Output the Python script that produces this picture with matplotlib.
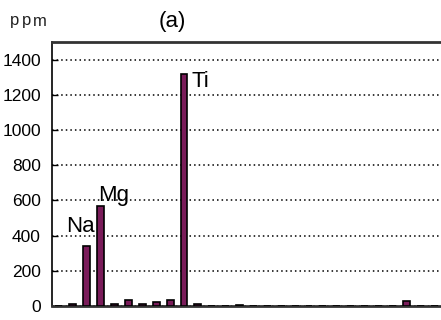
import matplotlib
matplotlib.use("Agg")
import matplotlib.pyplot as plt

plt.rcParams['font.family'] = ['Liberation Sans', 'DejaVu Sans']

# category index -> ppm value
positions = list(range(28))
values = [0, 10, 341, 567, 10, 34, 10, 24, 34, 1320, 10, 0, 0, 8, 0, 0,
          0, 0, 0, 0, 0, 0, 0, 0, 0, 30, 0, 0]
labels = {2: "Na", 3: "Mg", 9: "Ti"}
yticks = [0, 200, 400, 600, 800, 1000, 1200, 1400]

fig = plt.figure(figsize=(4.41, 3.20), dpi=100)
ax = fig.add_axes([52/441, 1-306/320, 1-52/441, (306-42)/320])

ax.bar(positions, values, width=0.5, color="#7A1C5A", edgecolor="black",
       linewidth=1.2, zorder=3)

ax.set_xlim(-0.5, 27.5)
ax.set_ylim(0, 1500)
ax.set_yticks(yticks)
ax.set_xticks([])
ax.tick_params(axis='y', direction='in', length=4, width=1, labelsize=12.5, pad=8)
ax.yaxis.grid(True, linestyle=(0, (1, 2)), color='black', linewidth=1.1)
ax.set_axisbelow(True)

ax.spines['right'].set_visible(False)
ax.spines['top'].set_linewidth(2)
ax.spines['top'].set_color('#333333')
ax.spines['left'].set_linewidth(1.2)
ax.spines['bottom'].set_linewidth(2)
ax.spines['bottom'].set_color('#333333')

# label anchor: (x offset in categories, y value of label centre)
label_pos = {2: (-0.45, 450), 3: (0.95, 625), 9: (0.55, 1275)}
for i, name in labels.items():
    dx, yc = label_pos[i]
    ax.text(i + dx, yc, name, fontsize=16, ha='center' if i != 9 else 'left',
            va='center')

for k, x0 in zip("ppm", (10, 22, 33)):
    fig.text(x0 / 441, 1 - 21 / 320, k, fontsize=12, ha='left', va='center',
             color='#222222')
fig.text(172/441, 1-21/320, "(a)", fontsize=16, ha='center', va='center')

fig.savefig("out.png", dpi=100)
